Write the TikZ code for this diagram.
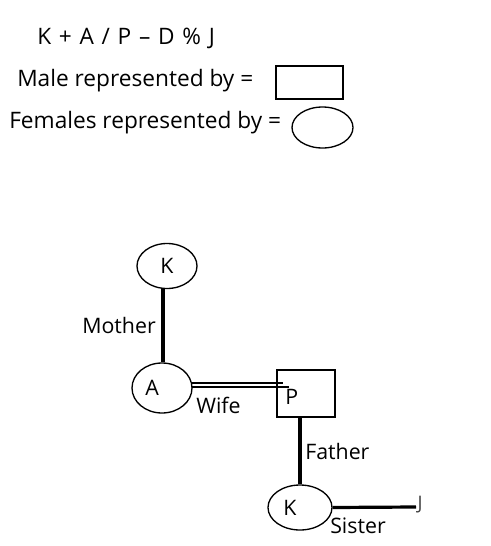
\documentclass[tikz,border=0pt]{standalone}
\usepackage{fontspec}
\setmainfont{Open Sans}
\usetikzlibrary{shapes.geometric}
\begin{document}
\begin{tikzpicture}[x=0.75pt,y=-0.75pt,
  txt/.style={font=\fontsize{17}{19}\selectfont, inner sep=0pt, anchor=west},
  fem/.style={draw, line width=1pt, ellipse, inner sep=0pt},
  male/.style={draw, line width=1pt, rectangle, inner sep=0pt},
  rel/.style={line width=2.4pt},
  dbl/.style={line width=1.3pt},
  lbl/.style={font=\fontsize{16}{18}\selectfont, inner sep=0pt}]
\useasboundingbox (0,0) rectangle (490,546);
% legend
\node[txt] (eq) at (37,38) {\spaceskip=5.8pt K + A / P – D \% J};
\node[txt] (male) at (17,81) {Male represented by =};
\node[male, minimum width=67*0.75pt, minimum height=33*0.75pt] (mbox) at (309.5,82.5) {};
\node[txt] (fem) at (9,123) {Females represented by =};
\node[fem, minimum width=61*0.75pt, minimum height=41*0.75pt] (fell) at (322.5,127.5) {};
% tree
\node[fem, minimum width=60*0.75pt, minimum height=45*0.75pt, lbl] (K1) at (167,266) {K};
\node[fem, minimum width=60*0.75pt, minimum height=50*0.75pt, lbl] (A) at (162,388) {\hspace*{-15pt}\raisebox{-4pt}{A}};
\node[male, minimum width=58*0.75pt, minimum height=47*0.75pt] (P) at (306,393.5) {};
\node[lbl, anchor=west] (Pl) at (285,397) {P};
\node[fem, minimum width=64*0.75pt, minimum height=45*0.75pt, lbl] (K2) at (300,507.5) {\hspace*{-15pt}\raisebox{-3pt}{K}};
\coordinate (Jend) at (416,507);
\node[lbl, font=\fontsize{14}{16}\selectfont, text=black!75] (J) at (420,505) {J};
% connectors
\draw[rel] ([xshift=-3pt]K1.south) -- ([xshift=-3pt]K1.south |- A.north);
\draw[dbl] (A.east) ++(-1,-4.8) -- ++(91,0);
\draw[dbl] (A.east) ++(-1,-1.2) -- ++(97,0);
\draw[rel] ([xshift=-4.5pt]P.south) -- ([xshift=-4.5pt]P.south |- K2.north);
\draw[rel] (K2.east) -- (Jend);
% labels
\node[lbl, anchor=east] (mother) at (156,325) {Mother};
\node[lbl, anchor=west] (wife) at (196,405) {Wife};
\node[lbl, anchor=west] (father) at (305,451) {Father};
\node[lbl, anchor=west] (sister) at (330,526) {Sister};
\end{tikzpicture}
\end{document}
